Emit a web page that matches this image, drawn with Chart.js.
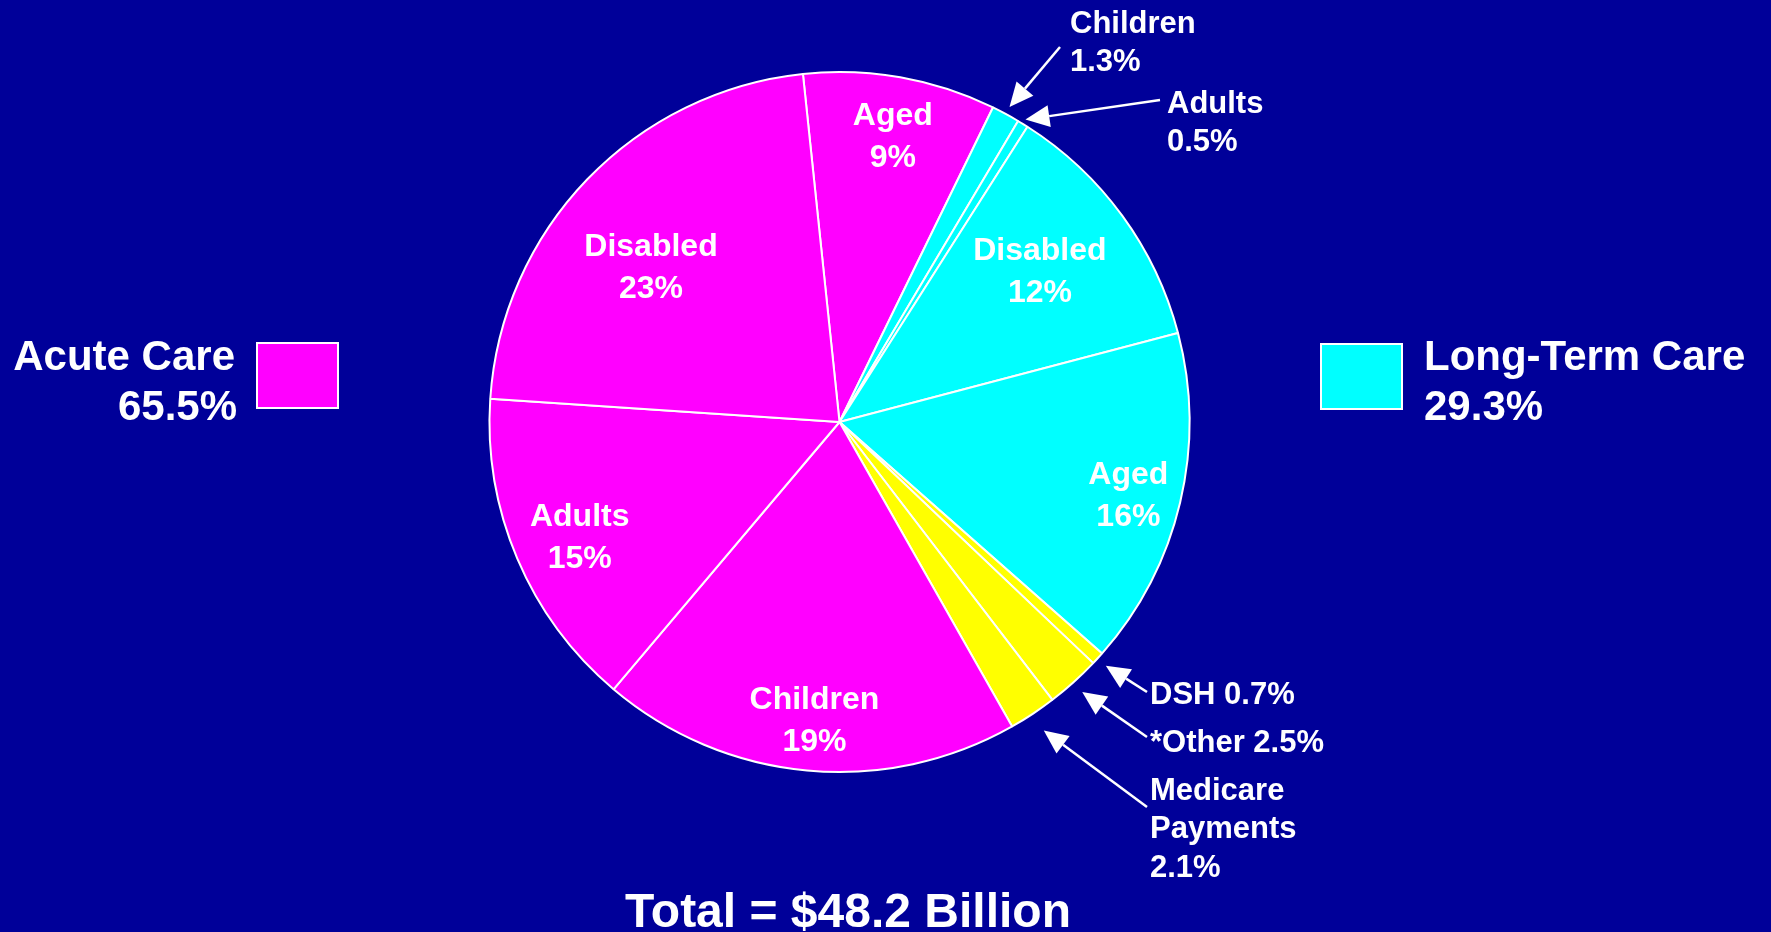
<!DOCTYPE html>
<html>
<head>
<meta charset="utf-8">
<script src="https://cdn.jsdelivr.net/npm/chart.js@4"></script>
<style>
  html, body { margin: 0; padding: 0; background: #000099; overflow: hidden; }
  #wrap { position: relative; width: 1771px; height: 932px; }
</style>
</head>
<body>
<div id="wrap"><canvas id="pieChart" width="1771" height="932"></canvas></div>
<script>
// slices, clockwise from the top
const sliceNames = ['Aged', 'Children', 'Adults', 'Disabled', 'Aged', 'DSH', '*Other', 'Medicare Payments', 'Children', 'Adults', 'Disabled'];
const sliceValues = [8.9, 1.3, 0.5, 11.9, 15.6, 0.6, 2.5, 2.2, 19.4, 14.9, 22.3];
const slicePercents = ['9%', '1.3%', '0.5%', '12%', '16%', '0.7%', '2.5%', '2.1%', '19%', '15%', '23%'];
const sliceGroups = ['acute', 'ltc', 'ltc', 'ltc', 'ltc', 'other', 'other', 'other', 'acute', 'acute', 'acute'];

const groupNames = ['Acute Care', 'Long-Term Care'];
const groupTotals = ['65.5%', '29.3%'];
const totalText = 'Total = $48.2 Billion';

const groupColors = { acute: '#ff00ff', ltc: '#00ffff', other: '#ffff00' };

// where each slice's text goes: inside (radius factor, angle nudge in deg) or outside with an arrow
const insideRadius = [0.835, null, null, 0.72, 0.85, null, null, null, 0.85, 0.81, 0.70];
const insideNudge = [0.5, 0, 0, -1.2, 0.5, 0, 0, 0, -0.5, -0.6, -4.2];
const outsideText = {
  1: { x: 1070, y: 24, lines: ['Children', '1.3%'], tail: [1060, 47], gap: 8 },
  2: { x: 1167, y: 104, lines: ['Adults', '0.5%'], tail: [1160, 100], gap: 5 },
  5: { x: 1150, y: 695, lines: ['DSH 0.7%'], tail: [1147, 692], gap: 11 },
  6: { x: 1150, y: 743, lines: ['*Other 2.5%'], tail: [1147, 737], gap: 13 },
  7: { x: 1150, y: 791, lines: ['Medicare', 'Payments', '2.1%'], tail: [1147, 807], gap: 20 }
};

const FONT = '"Liberation Sans", Arial, sans-serif';

function drawArrow(ctx, x1, y1, x2, y2) {
  const a = Math.atan2(y2 - y1, x2 - x1);
  const head = 24, half = 11;
  const bx = x2 - Math.cos(a) * head, by = y2 - Math.sin(a) * head;
  ctx.strokeStyle = '#fff';
  ctx.fillStyle = '#fff';
  ctx.lineWidth = 2.5;
  ctx.beginPath();
  ctx.moveTo(x1, y1);
  ctx.lineTo(bx, by);
  ctx.stroke();
  ctx.beginPath();
  ctx.moveTo(x2, y2);
  ctx.lineTo(bx - Math.sin(a) * half, by + Math.cos(a) * half);
  ctx.lineTo(bx + Math.sin(a) * half, by - Math.cos(a) * half);
  ctx.closePath();
  ctx.fill();
}

const labelPlugin = {
  id: 'sliceText',
  afterDraw(chart) {
    const ctx = chart.ctx;
    const arcs = chart.getDatasetMeta(0).data;
    ctx.save();
    ctx.fillStyle = '#fff';
    ctx.textBaseline = 'middle';

    arcs.forEach((arc, i) => {
      const p = arc.getProps(['x', 'y', 'startAngle', 'endAngle', 'outerRadius'], true);
      const mid = (p.startAngle + p.endAngle) / 2;
      if (insideRadius[i] !== null) {
        const r = p.outerRadius * insideRadius[i];
        const a = mid + insideNudge[i] * Math.PI / 180;
        const cx = p.x + Math.cos(a) * r;
        const cy = p.y + Math.sin(a) * r + 3;
        ctx.font = 'bold 32px ' + FONT;
        ctx.textAlign = 'center';
        ctx.fillText(sliceNames[i], cx, cy - 21);
        ctx.fillText(slicePercents[i], cx, cy + 21);
      } else {
        const o = outsideText[i];
        ctx.font = 'bold 31px ' + FONT;
        ctx.textAlign = 'left';
        o.lines.forEach((t, k) => ctx.fillText(t, o.x, o.y + k * 38.5));
        const r = p.outerRadius + o.gap;
        drawArrow(ctx, o.tail[0], o.tail[1], p.x + Math.cos(mid) * r, p.y + Math.sin(mid) * r);
      }
    });

    // group legend boxes
    ctx.font = 'bold 42px ' + FONT;
    ctx.lineWidth = 2;
    ctx.strokeStyle = '#fff';
    ctx.fillStyle = groupColors.acute;
    ctx.fillRect(257, 343, 81, 65);
    ctx.strokeRect(257, 343, 81, 65);
    ctx.fillStyle = groupColors.ltc;
    ctx.fillRect(1321, 344, 81, 65);
    ctx.strokeRect(1321, 344, 81, 65);

    ctx.fillStyle = '#fff';
    ctx.textAlign = 'right';
    ctx.fillText(groupNames[0], 235, 358);
    ctx.fillText(groupTotals[0], 237, 408);
    ctx.textAlign = 'left';
    ctx.fillText(groupNames[1], 1424, 358);
    ctx.fillText(groupTotals[1], 1424, 408);

    ctx.font = 'bold 48px ' + FONT;
    ctx.textAlign = 'center';
    ctx.textBaseline = 'alphabetic';
    ctx.fillText(totalText, 848, 927);
    ctx.restore();
  }
};

new Chart(document.getElementById('pieChart'), {
  type: 'pie',
  data: {
    labels: sliceNames,
    datasets: [{
      data: sliceValues,
      backgroundColor: sliceGroups.map(g => groupColors[g]),
      borderColor: '#ffffff',
      borderWidth: 2
    }]
  },
  options: {
    responsive: false,
    animation: false,
    rotation: -6,
    layout: { padding: { left: 488.5, top: 71, right: 580.5, bottom: 159 } },
    plugins: {
      legend: { display: false },
      title: { display: false },
      tooltip: { enabled: false }
    }
  },
  plugins: [labelPlugin]
});
</script>
</body>
</html>
